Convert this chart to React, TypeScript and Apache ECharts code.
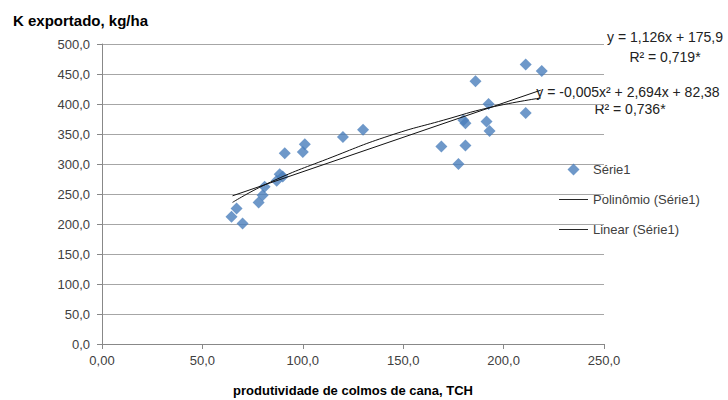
import React, { useEffect, useRef } from "react";
import * as echarts from "echarts";

const pointsX = [64.5, 67, 70, 78, 80, 81, 87, 88.5, 90, 91, 100, 101, 120, 130, 169, 177.5, 181, 180, 181, 186, 191.5, 193, 192.5, 211, 211, 219];
const pointsY = [212, 226, 201, 236, 248, 262, 272, 283, 279, 318, 320, 333, 345, 357, 329, 300, 331, 373, 368, 438, 371, 355, 400, 385, 466, 455];

const polyX = [65, 84, 115, 143, 170, 193, 218.5];
const polyY = [236, 270, 312, 347, 373, 394, 410];
const linX = [65, 218.5];
const linY = [247, 423];

const seriesNames = ["Série1", "Polinômio (Série1)", "Linear (Série1)"];
const eqLinear = ["y = 1,126x + 175,9", "R² = 0,719*"];
const eqPoly = ["y = -0,005x² + 2,694x + 82,38", "R² = 0,736*"];
const yTitle = "K exportado, kg/ha";
const xTitle = "produtividade de colmos de cana, TCH";

const fmt = (v: number) => v.toFixed(1).replace(".", ",");

export default function App() {
  const ref = useRef<HTMLDivElement>(null);
  useEffect(() => {
    if (!ref.current) return;
    const chart = echarts.init(ref.current, null, { renderer: "svg" });
    const font = "'Liberation Sans', Arial, sans-serif";
    const lineIcon = "path://M0,0 L32,0 L32,1 L0,1 Z";
    const diamondIcon = "path://M5,0 L10,5 L5,10 L0,5 Z";
    chart.setOption({
      animation: false,
      backgroundColor: "#ffffff",
      textStyle: { fontFamily: font },
      grid: { left: 102, right: 124, top: 44, bottom: 56, containLabel: false, outerBoundsMode: "none" },
      xAxis: {
        type: "value",
        min: 0,
        max: 250,
        interval: 50,
        name: xTitle,
        nameLocation: "middle",
        nameGap: 40,
        nameTextStyle: { fontSize: 13, fontWeight: "bold", color: "#000", fontFamily: font },
        axisLine: { show: true, lineStyle: { color: "#888" } },
        axisTick: { show: true, length: 5, lineStyle: { color: "#888" } },
        splitLine: { show: false },
        axisLabel: {
          fontSize: 13,
          color: "#404040",
          margin: 10,
          formatter: (v: number) => (v === 0 ? "0,00" : fmt(v)),
        },
      },
      yAxis: {
        type: "value",
        min: 0,
        max: 500,
        interval: 50,
        axisLine: { show: true, lineStyle: { color: "#888" } },
        axisTick: { show: true, length: 5, lineStyle: { color: "#888" } },
        splitLine: { show: true, lineStyle: { color: "#a6a6a6" } },
        axisLabel: { fontSize: 13, color: "#404040", margin: 12, formatter: (v: number) => fmt(v) },
      },
      legend: {
        orient: "vertical",
        left: 559,
        top: 163,
        padding: 0,
        itemWidth: 29,
        itemHeight: 12,
        itemGap: 17,
        symbolKeepAspect: true,
        textStyle: { fontSize: 13, color: "#404040", fontFamily: font },
        data: [
          { name: seriesNames[0], icon: diamondIcon },
          { name: seriesNames[1], icon: lineIcon },
          { name: seriesNames[2], icon: lineIcon },
        ],
      },
      series: [
        {
          name: seriesNames[0],
          type: "scatter",
          symbol: "diamond",
          symbolSize: 12,
          itemStyle: { color: "#4a7ebb" },
          data: pointsX.map((x, i) => [x, pointsY[i]]),
          z: 3,
        },
        {
          name: seriesNames[1],
          type: "line",
          smooth: true,
          symbol: "none",
          lineStyle: { color: "#111", width: 1 },
          itemStyle: { color: "#111" },
          data: polyX.map((x, i) => [x, polyY[i]]),
          z: 4,
        },
        {
          name: seriesNames[2],
          type: "line",
          symbol: "none",
          lineStyle: { color: "#111", width: 1 },
          itemStyle: { color: "#111" },
          data: linX.map((x, i) => [x, linY[i]]),
          z: 4,
        },
      ],
      graphic: [
        {
          type: "text",
          left: 13,
          top: 13,
          style: { text: yTitle, font: `bold 15px ${font}`, fill: "#000" },
        },
        {
          type: "text",
          x: 665,
          y: 37,
          style: { text: eqLinear[0], font: `14px ${font}`, fill: "#222", align: "center", verticalAlign: "middle" },
        },
        {
          type: "text",
          x: 665,
          y: 57,
          style: { text: eqLinear[1], font: `14px ${font}`, fill: "#222", align: "center", verticalAlign: "middle" },
        },
        {
          type: "text",
          x: 628,
          y: 92,
          style: { text: eqPoly[0], font: `14px ${font}`, fill: "#222", align: "center", verticalAlign: "middle" },
        },
        {
          type: "text",
          x: 630,
          y: 109,
          style: { text: eqPoly[1], font: `14px ${font}`, fill: "#222", align: "center", verticalAlign: "middle" },
        },
      ],
    });
    return () => chart.dispose();
  }, []);
  return <div ref={ref} style={{ position: "absolute", left: 0, top: 0, width: 728, height: 400 }} />;
}
